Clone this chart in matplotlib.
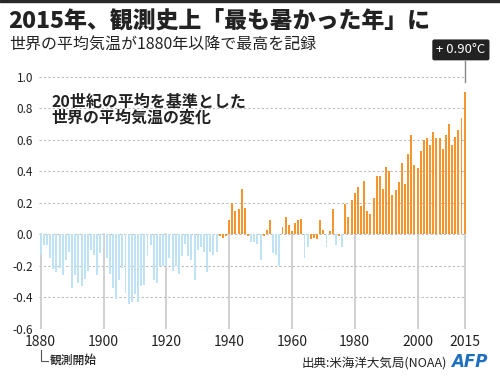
import matplotlib
matplotlib.use("Agg")
import matplotlib.pyplot as plt
import numpy as np

plt.rcParams['font.family'] = ['Noto Sans CJK JP', 'DejaVu Sans']

# NOAA annual global temperature anomaly vs 20th-century average (deg C)
years = np.arange(1880, 2016)
anomaly = [
    -0.13, -0.07, -0.07, -0.15, -0.22, -0.24, -0.21, -0.26, -0.16, -0.11,  # 1880s
    -0.34, -0.26, -0.31, -0.33, -0.28, -0.23, -0.10, -0.13, -0.26, -0.12,  # 1890s
    -0.08, -0.15, -0.25, -0.34, -0.41, -0.29, -0.21, -0.37, -0.44, -0.43,  # 1900s
    -0.38, -0.43, -0.33, -0.32, -0.14, -0.07, -0.29, -0.31, -0.20, -0.20,  # 1910s
    -0.20, -0.15, -0.23, -0.20, -0.25, -0.14, -0.06, -0.14, -0.16, -0.29,  # 1920s
    -0.10, -0.08, -0.11, -0.24, -0.11, -0.13, -0.11, -0.01, -0.02, -0.01,  # 1930s
    0.09, 0.20, 0.15, 0.16, 0.29, 0.17, -0.01, -0.05, -0.05, -0.06,        # 1940s
    -0.16, -0.01, 0.03, 0.09, -0.12, -0.13, -0.20, 0.05, 0.11, 0.06,       # 1950s
    0.02, 0.07, 0.09, 0.10, -0.15, -0.08, -0.03, -0.02, -0.03, 0.09,       # 1960s
    0.03, -0.08, 0.02, 0.16, -0.07, -0.01, -0.08, 0.19, 0.11, 0.22,        # 1970s
    0.26, 0.30, 0.18, 0.34, 0.15, 0.13, 0.23, 0.37, 0.37, 0.29,            # 1980s
    0.43, 0.40, 0.25, 0.28, 0.33, 0.45, 0.32, 0.51, 0.63, 0.44,            # 1990s
    0.42, 0.53, 0.60, 0.61, 0.57, 0.65, 0.61, 0.61, 0.54, 0.63,            # 2000s
    0.70, 0.57, 0.62, 0.66, 0.74, 0.90,                                    # 2010s
]
yticks = [-0.6, -0.4, -0.2, 0.0, 0.2, 0.4, 0.6, 0.8, 1.0]
xticks = [1880, 1900, 1920, 1940, 1960, 1980, 2000, 2015]

orange = '#f5952f'
blue = '#bfe2f5'
colors = [orange if v > -0.04 else blue for v in anomaly]

fig = plt.figure(figsize=(5, 3.78), dpi=100)
ax = fig.add_axes([0.072, 0.1296, 0.8636, 0.6675])
ax.set_xlim(1878.5, 2016)
ax.set_ylim(-0.6, 1.0)

# dotted grid
for t in yticks:
    ax.plot([1879.6, 2015], [t, t], ls=(0, (2, 2)), color='#bbbbbb', lw=0.8, zorder=0)
# vertical year markers below the zero line
for t in xticks:
    ax.plot([t, t], [-0.6, 0], color='#c8c8c8', lw=1.2, zorder=0)

ax.bar(years, anomaly, width=0.62, color=colors, zorder=2)

for s in ax.spines.values():
    s.set_visible(False)
ax.set_xticks([])
ax.set_yticks(yticks)
ax.set_yticklabels([f'{t:.1f}' for t in yticks], fontsize=8.5, color='#222222')
ax.tick_params(axis='y', length=0, pad=2)

for t in xticks:
    ax.text(t, -0.64, str(t), ha='center', va='top', fontsize=10, color='#222222')

# 観測開始 marker
ax.plot([1880, 1880, 1882.2], [-0.73, -0.8, -0.8], color='#555555', lw=0.8, clip_on=False)
ax.text(1882.8, -0.8, '観測開始', ha='left', va='center', fontsize=8.5,
        fontweight='medium', color='#222222')

ax.text(1883.3, 0.89, '20世紀の平均を基準とした\n世界の平均気温の変化', ha='left', va='top',
        fontsize=11.5, fontweight='bold', color='#222222', linespacing=0.92)

# highlight label for 2015
ax.plot([2015, 2015], [1.10, 0.965], color='#888888', lw=1.0, clip_on=False)
ax.text(2013.8, 1.17, '+ 0.90°C', ha='center', va='center', fontsize=9.5, color='white',
        bbox=dict(boxstyle='round,pad=0.3,rounding_size=0.15', fc='#222222', ec='none'))

fig.patches.append(plt.Rectangle((0, 0.994), 1, 0.006, transform=fig.transFigure,
                                 color='#2a2a2a'))
fig.text(0.016, 0.942, '2015年、観測史上「最も暑かった年」に', fontsize=16.5,
         fontweight='heavy', color='#222222', va='center')
fig.text(0.018, 0.884, '世界の平均気温が1880年以降で最高を記録', fontsize=11.5,
         color='#222222', va='center')

fig.text(0.894, 0.04, '出典:米海洋大気局(NOAA)', fontsize=9, color='#222222',
         ha='right', va='center', style='italic')
fig.text(0.975, 0.042, 'AFP', fontsize=12, color='#1f6fbf', ha='right', va='center',
         fontweight='bold', style='italic', family='DejaVu Sans')

fig.savefig('out.png', dpi=100, facecolor='white')
